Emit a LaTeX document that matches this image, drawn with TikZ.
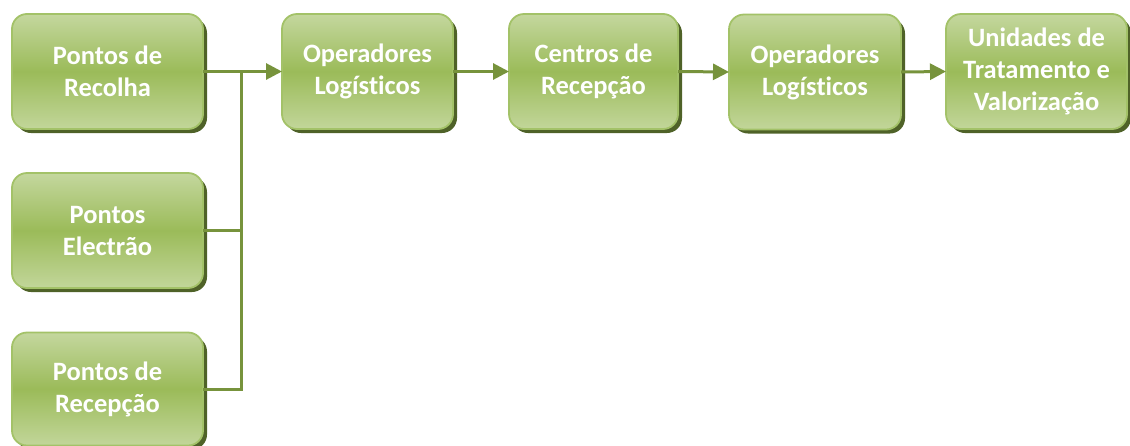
\documentclass[tikz,border=0pt]{standalone}
\usepackage{fontspec}
\setmainfont{Carlito}[Ligatures={NoCommon}]
\usetikzlibrary{arrows.meta,shadows}
\definecolor{gtop}{HTML}{C4D79E}
\definecolor{gmid}{HTML}{9BBB59}
\definecolor{gbot}{HTML}{C2D69A}
\definecolor{gedge}{HTML}{A3C268}
\definecolor{gshadow}{HTML}{4F6228}
\definecolor{gline}{HTML}{77933C}
\tikzset{
  box/.style={rectangle, rounded corners=15pt, draw=gedge, line width=1.8pt,
    top color=gtop, bottom color=gbot, middle color=gmid,
    drop shadow={shadow xshift=4pt, shadow yshift=-4pt, fill=gshadow, opacity=1},
    text=white, font=\bfseries\fontsize{26.5}{32}\selectfont, align=center,
    inner sep=0pt, outer sep=0pt},
  conn/.style={draw=gline, line width=3pt},
  arr/.style={conn, -{Triangle[length=16pt,width=16pt]}}
}
\begin{document}
\begin{tikzpicture}[x=1pt,y=-1pt]
\useasboundingbox (0,0) rectangle (1130,445);
\node[box, minimum width=191pt, minimum height=115pt] (b1) at (107.5,71.5) {Pontos de\\Recolha};
\node[box, minimum width=191pt, minimum height=115pt] (b6) at (107.5,230.5) {Pontos\\Electrão};
\node[box, minimum width=191pt, minimum height=113pt] (b7) at (107.5,389) {Pontos de\\Recepção};
\node[box, minimum width=171pt, minimum height=115pt] (b2) at (367.5,71.5) {Operadores\\Logísticos};
\node[box, minimum width=169pt, minimum height=115pt] (b3) at (593.5,71.5) {Centros de\\Recepção};
\node[box, minimum width=172pt, minimum height=115pt] (b4) at (815,72) {Operadores\\Logísticos};
\node[box, minimum width=181pt, minimum height=115pt] (b5) at (1036.5,71.5) {Unidades de\\Tratamento e\\Valorização};
\coordinate (j) at (241,71.5);
\draw[arr] (b1.east) -- (b2.west);
\draw[conn] (b6.east) -| (j);
\draw[conn] (b7.east) -| (j);
\draw[arr] (b2.east) -- (b3.west);
\draw[arr] (b3.east) -- (b4.west);
\draw[arr] (b4.east) -- (b5.west);
\end{tikzpicture}
\end{document}
